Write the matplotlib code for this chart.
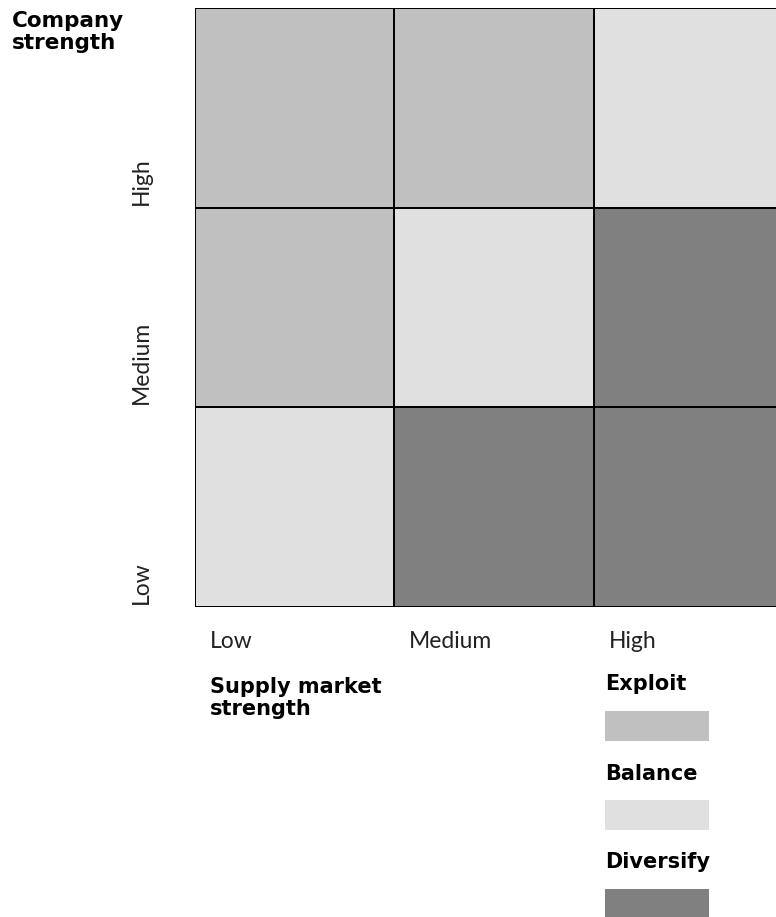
import numpy as np
import matplotlib.pyplot as plt
from matplotlib.colors import ListedColormap
from matplotlib.patches import Rectangle

plt.rcParams['font.family'] = ['Lato', 'DejaVu Sans']
BOLD = ['DejaVu Sans']

# strategies and their fills
strategies = ['Exploit', 'Balance', 'Diversify']
strategy_colors = ['#c0c0c0', '#e0e0e0', '#808080']

# supply market strength (columns) / company strength (rows)
market_levels = ['Low', 'Medium', 'High']
company_levels = ['Low', 'Medium', 'High']

# strategy index per cell, one list per company row, columns Low -> High
row_low = [1, 2, 2]
row_medium = [0, 1, 2]
row_high = [0, 0, 1]

cells = np.array([row_low, row_medium, row_high])

fig = plt.figure(figsize=(7.76, 9.17), dpi=100)
ax = fig.add_axes([195 / 776, 1 - 607 / 917, 598 / 776, 599 / 917])

cmap = ListedColormap(strategy_colors)
ax.pcolormesh(np.arange(4), np.arange(4), cells, cmap=cmap, vmin=-0.5, vmax=2.5,
              edgecolors='black', linewidth=1.2)
ax.set_xlim(0, 3)
ax.set_ylim(0, 3)
ax.axis('off')

# level labels on both axes
for i, lab in enumerate(market_levels):
    ax.text(i + 0.075, -0.205, lab, fontsize=16.5,
            ha='left', va='baseline', color='#222222')
for i, lab in enumerate(company_levels):
    ax.text(-0.271, i + 0.015, lab, fontsize=16.5,
            rotation=90, ha='center', va='bottom', color='#222222')

ax.text(0.075, -0.541, 'Supply market\nstrength', fontsize=15, family=BOLD,
        fontweight='bold', ha='left', va='baseline', linespacing=1.15)
fig.text(12 / 776, 1 - 11 / 917, 'Company\nstrength', fontsize=15.5, family=BOLD,
         fontweight='bold', ha='left', va='top', linespacing=1.15)

# legend: name then swatch below it
text_y = [-0.416, -0.866, -1.307]
swatch_top = [-0.521, -0.966, -1.412]
for name, col, ty, st in zip(strategies, strategy_colors, text_y, swatch_top):
    ax.text(2.057, ty, name, fontsize=15, family=BOLD, fontweight='bold',
            ha='left', va='baseline')
    ax.add_patch(Rectangle((2.057, st - 0.15), 0.522, 0.15, facecolor=col,
                           edgecolor='none', clip_on=False))

fig.savefig('out.png', dpi=100)
